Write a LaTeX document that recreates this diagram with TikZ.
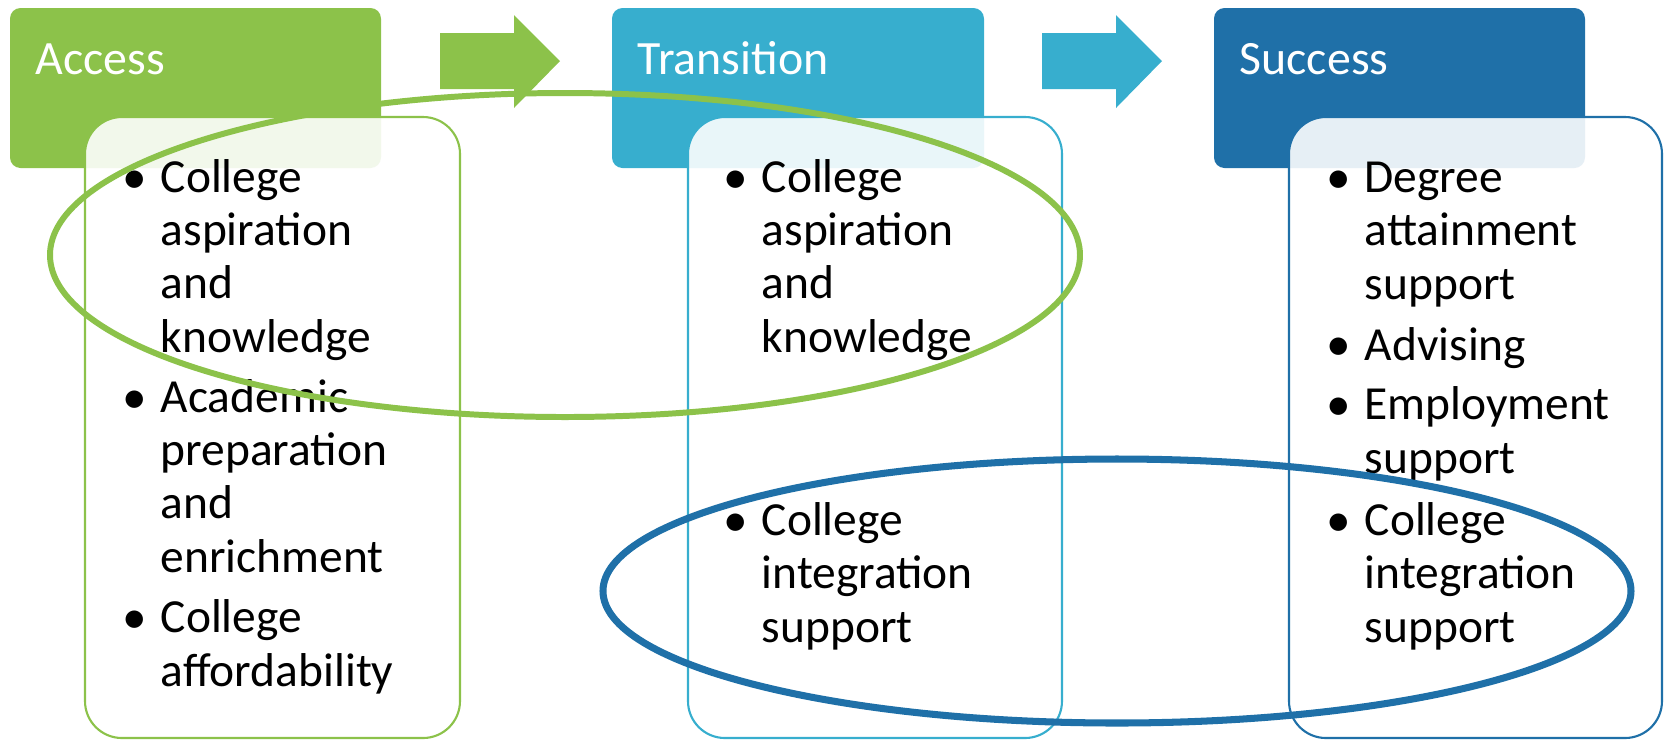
\documentclass[tikz,border=0pt]{standalone}
\usepackage{fontspec}
\setmainfont{Carlito}
\definecolor{mygreen}{RGB}{140,194,74}
\definecolor{mycyan}{RGB}{55,174,206}
\definecolor{myblue}{RGB}{31,112,168}
\tikzset{
  headbox/.style={rounded corners=3pt},
  headtext/.style={anchor=base west,inner sep=0pt,text=white,font=\fontsize{13.6}{15.1}\selectfont},
  listbox/.style={fill=white,fill opacity=0.89,line width=0.6pt,rounded corners=10.5pt},
  itemtext/.style={anchor=base west,align=left,inner sep=0pt,font=\fontsize{13.5}{15.1}\selectfont},
  bul/.style={anchor=base,inner sep=0pt,font=\fontsize{14}{15.1}\selectfont},
  loop/.style={line width=1.7pt}
}

\begin{document}
\begin{tikzpicture}[x=0.01cm,y=-0.01cm]

  \useasboundingbox (0,0) rectangle (1665,741);

  % header boxes
  \fill [mygreen,headbox] % access
    (10,8) rectangle (381,168);
  \fill [mycyan,headbox] % transition
    (612,8) rectangle (984,168);
  \fill [myblue,headbox] % success
    (1214,8) rectangle (1585,168);

  % block arrows
  \fill [mygreen]
    (440,33) -- (514,33) -- (514,15) -- (560,61) -- (514,108) -- (514,89) -- (440,89) -- cycle;
  \fill [mycyan]
    (1042,33) -- (1116,33) -- (1116,15) -- (1162,61) -- (1116,108) -- (1116,89) -- (1042,89) -- cycle;

  % header labels
  \node[headtext] (access) at (35,74) {Access};
  \node[headtext] (transition) at (637,74) {Transition};
  \node[headtext] (success) at (1239,74) {Success};

  % list boxes
  \filldraw [listbox,draw=mygreen]
    (85,117) rectangle (460,738);
  \filldraw [listbox,draw=mycyan]
    (688,117) rectangle (1062,738);
  \filldraw [listbox,draw=myblue]
    (1289,117) rectangle (1662,738);

  % items (text nodes sit on their last baseline)
  % access
  \node[bul] (ab1) at (135,193) {•};
  \node[itemtext] (aspa) at (160,352) {College\\aspiration\\and\\knowledge};
  \node[bul] (ab2) at (135,413) {•};
  \node[itemtext] (prep) at (160,572) {Academic\\preparation\\and\\enrichment};
  \node[bul] (ab3) at (135,633) {•};
  \node[itemtext] (afford) at (160,686) {College\\affordability};

  % transition
  \node[bul] (tb1) at (736,193) {•};
  \node[itemtext] (aspb) at (761,352) {College\\aspiration\\and\\knowledge};
  \node[bul] (tb2) at (736,536) {•};
  \node[itemtext] (intega) at (761,642) {College\\integration\\support};

  % success
  \node[bul] (sb1) at (1339,193) {•};
  \node[itemtext] (degree) at (1364,299) {Degree\\attainment\\support};
  \node[bul] (sb2) at (1339,360) {•};
  \node[itemtext] (advis) at (1364,360) {Advising};
  \node[bul] (sb3) at (1339,420) {•};
  \node[itemtext] (employ) at (1364,473) {Employment\\support};
  \node[bul] (sb4) at (1339,536) {•};
  \node[itemtext] (integb) at (1364,642) {College\\integration\\support};

  % ellipses
  \draw[loop,mygreen] % aspiration
    (565,255) ellipse [x radius=515,y radius=162];
  \draw[loop,myblue,line width=2pt] % integration
    (1117,591) ellipse [x radius=514,y radius=132];

\end{tikzpicture}
\end{document}
